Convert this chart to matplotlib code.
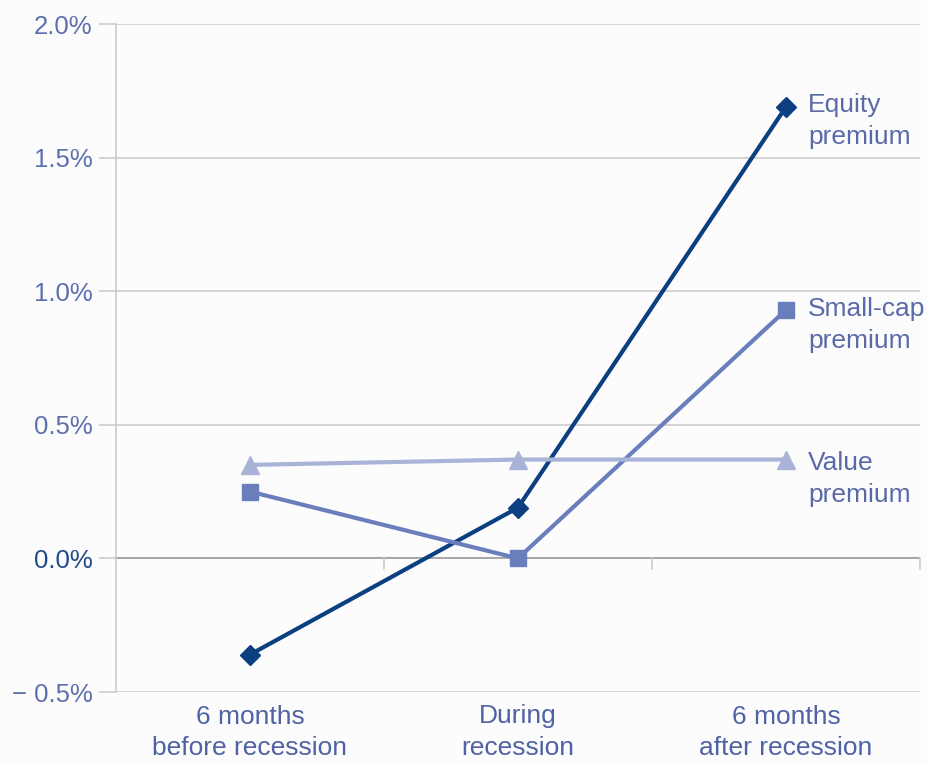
import matplotlib.pyplot as plt
import numpy as np

# data
categories = ["6 months\nbefore recession", "During\nrecession", "6 months\nafter recession"]
equity = [-0.36, 0.19, 1.69]
small_cap = [0.25, 0.0, 0.93]
value = [0.35, 0.37, 0.37]
series_names = ["Equity\npremium", "Small-cap\npremium", "Value\npremium"]
y_ticks = [-0.5, 0.0, 0.5, 1.0, 1.5, 2.0]

plt.rcParams["font.family"] = ["Liberation Sans", "DejaVu Sans"]

fig = plt.figure(figsize=(9.27, 7.63), dpi=100, facecolor="#fcfcfd")
ax = fig.add_axes([116 / 927, 1 - 692 / 763, 804 / 927, 668 / 763])
ax.set_facecolor("#fcfcfd")

x = np.arange(len(categories))
ax.set_xlim(-0.5, 2.5)
ax.set_ylim(-0.5, 2.0)

grid_c = "#c8c8c8"
for yv in y_ticks:
    if yv == 0.0:
        ax.axhline(yv, color="#a0a0a0", lw=1.3, zorder=1)
    else:
        ax.axhline(yv, color=grid_c, lw=1.1, zorder=1)

# small ticks between categories on the zero line
for xb in [0.5, 1.5, 2.5]:
    ax.plot([xb, xb], [0, -0.04], color=grid_c, lw=1.1, zorder=1, clip_on=False)

colors = ["#0b3f80", "#6a7ebb", "#a8b3d7"]
markers = ["D", "s", "^"]
sizes = [10, 11, 13]
for vals, c, m, s in zip([equity, small_cap, value], colors, markers, sizes):
    ax.plot(x, vals, color=c, lw=3, marker=m, markersize=s, zorder=3)

offsets = [(16, -10), (16, -11), (16, -14)]
for vals, name, off in zip([equity, small_cap, value], series_names, offsets):
    ax.annotate(name, (x[-1], vals[-1]), xytext=off, textcoords="offset points",
                fontsize=19, color="#5a6aa8", va="center", ha="left",
                linespacing=1.4, annotation_clip=False)

for sp in ["top", "right", "bottom"]:
    ax.spines[sp].set_visible(False)
ax.spines["left"].set_color(grid_c)
ax.spines["left"].set_linewidth(1.1)

ax.set_yticks(y_ticks)
ax.set_yticklabels(["\u2212 0.5%", "0.0%", "0.5%", "1.0%", "1.5%", "2.0%"])
ax.tick_params(axis="y", length=12, color=grid_c, width=1.1, labelsize=18.5,
               labelcolor="#5e6fae", pad=5)
ax.get_yticklabels()[1].set_color("#1f4a8a")

ax.set_xticks(x)
ax.set_xticklabels(categories)
ax.tick_params(axis="x", length=0, labelsize=19, labelcolor="#4f62a3", pad=9)
for lbl in ax.get_xticklabels():
    lbl.set_linespacing(1.4)

plt.savefig("out.png", dpi=100, facecolor=fig.get_facecolor())
